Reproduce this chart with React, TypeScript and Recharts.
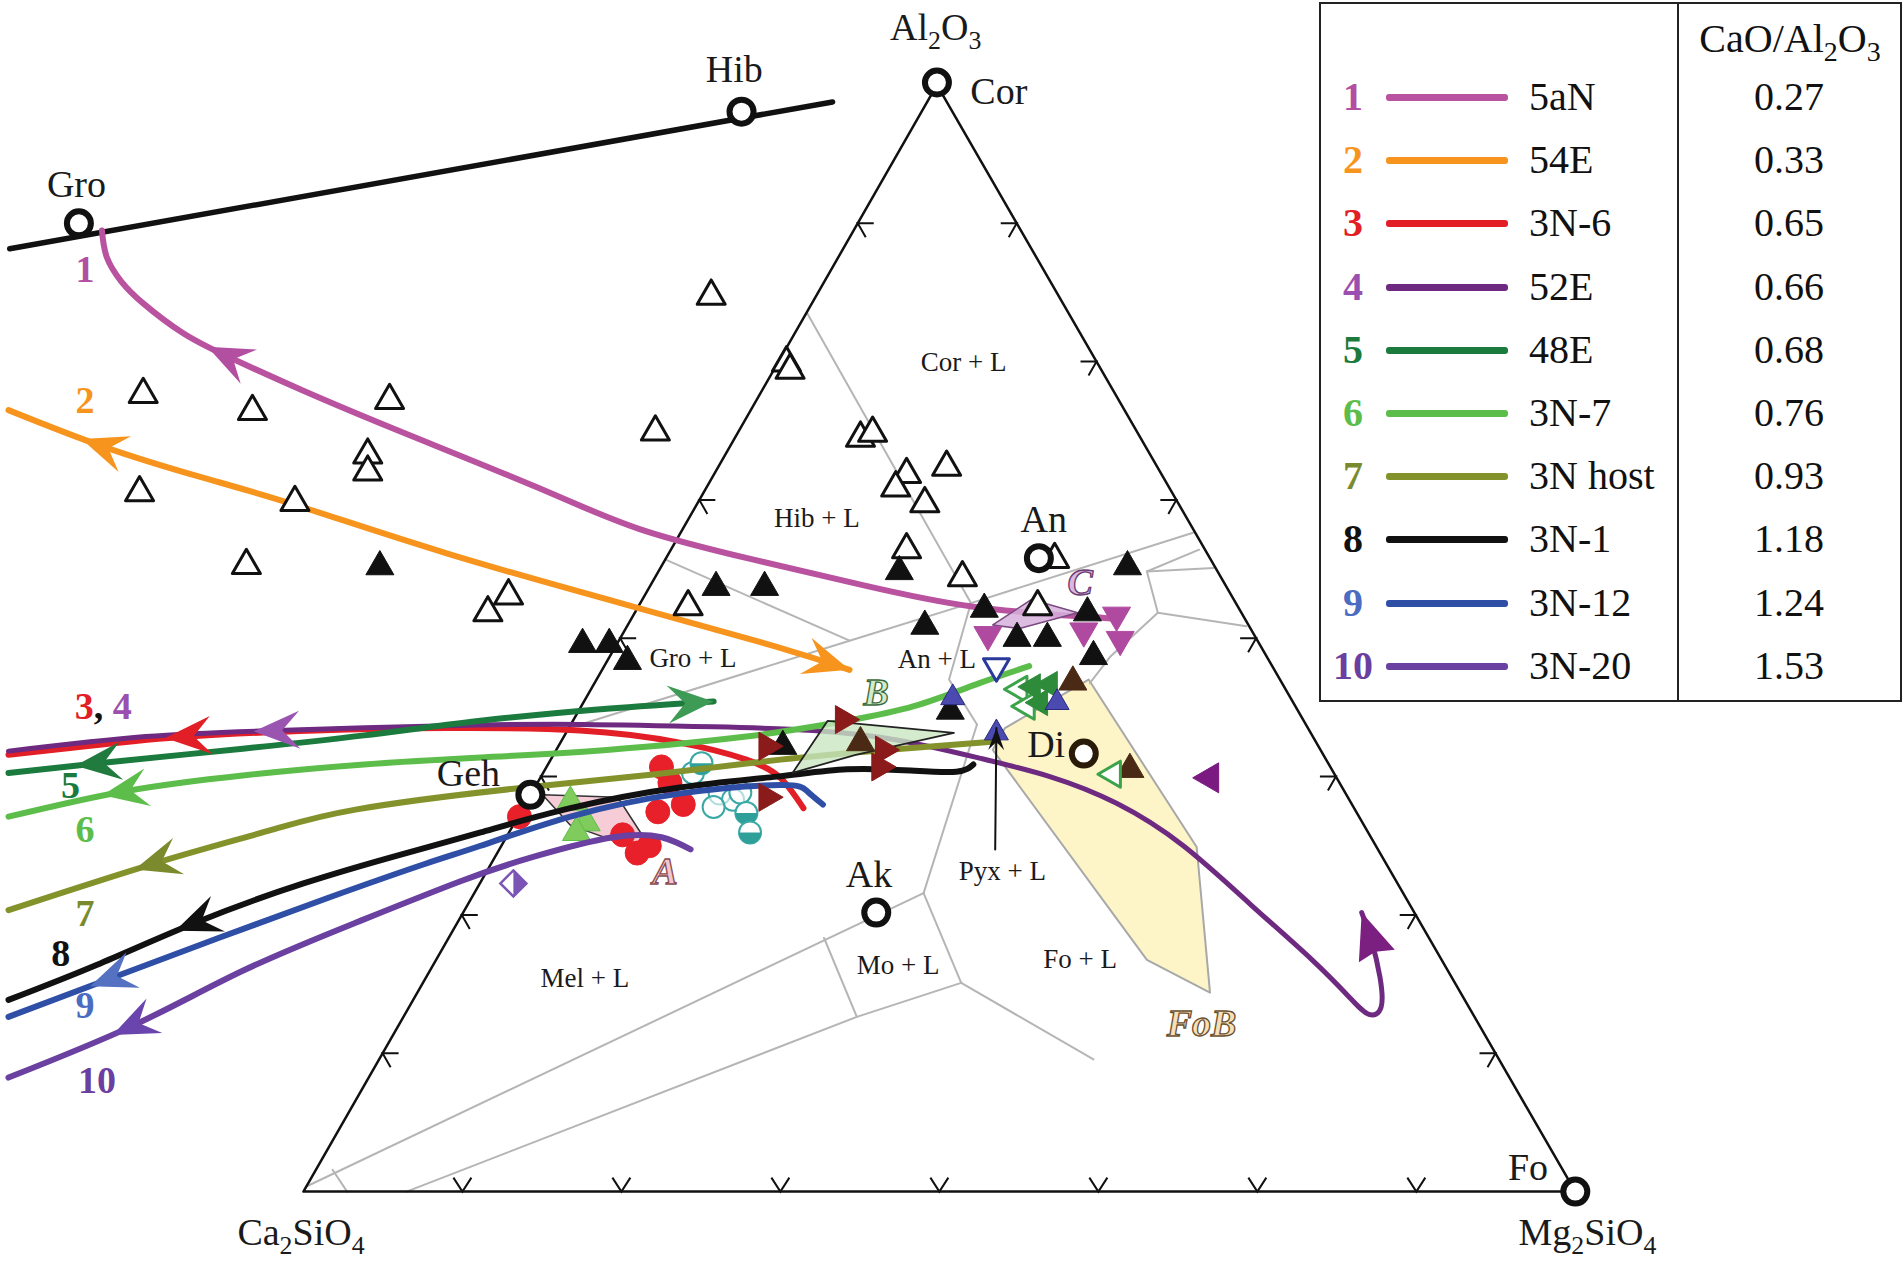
import React from "react";
import { ComposedChart, XAxis, YAxis, Scatter, Curve } from "recharts";

type Pt = { x: number; y: number };
const p = (x: number, y: number): Pt => ({ x, y });

const CHART_W = 1903;
const CHART_H = 1262;
// figure units: 1568 x 1040, y grows downward
const X_DOMAIN: [number, number] = [0, 1568];
const Y_DOMAIN: [number, number] = [0, 1040];

// ---- ternary frame ----
const cornerCa2SiO4 = p(250, 982);
const cornerMg2SiO4 = p(1298, 982);
const cornerAl2O3 = p(772, 70);
const tickFractions = [0.125, 0.25, 0.375, 0.5, 0.625, 0.75, 0.875];

// Gro - Hib join
const tieGroHib = [p(8, 205), p(686, 84)];

// ---- liquidus field boundaries ----
const bHibCor = [p(665, 258), p(800, 497)];
const bHibGro = [p(548, 461), p(700, 528), p(800, 497)];
const bGroMel = [p(469, 600), p(700, 528)];
const bAnTop = [p(800, 497), p(983, 439)];
const bAnRightA = [p(945, 471), p(988, 453)];
const bAnRightB = [p(945, 471), p(1000, 468)];
const bAnRightC = [p(945, 471), p(954, 505), p(1027, 516)];
const bDiTop = [p(954, 505), p(915, 541), p(898, 563)];
const bAnLow = [p(800, 497), p(782, 560), p(805, 597)];
const bPyx = [p(805, 597), p(761, 736)];
const bMelAk = [p(252, 978), p(761, 736)];
const bC2S = [p(274, 964), p(286, 982)];
const bMoLow = [p(335, 982), p(706, 838), p(792, 810)];
const bMoLeft = [p(679, 773), p(706, 838)];
const bMoRight = [p(761, 736), p(792, 810)];
const bFo = [p(792, 810), p(901, 873)];
const boundaries = [bHibCor, bHibGro, bGroMel, bAnTop, bAnRightA, bAnRightB, bAnRightC, bDiTop, bAnLow, bPyx, bMelAk, bC2S, bMoLow, bMoLeft, bMoRight, bFo];

// composition fields
const fieldFoB = [p(828, 600), p(897, 560), p(986, 698), p(997, 818), p(945, 791), p(818, 618)];
const fieldA = [p(447, 655), p(509, 657), p(540, 705), p(470, 680)];
const fieldB = [p(653, 637), p(682, 594), p(786, 604), p(705, 622)];
const fieldC = [p(818, 515), p(850, 494), p(888, 505), p(840, 518)];

// ---- crystallization paths ----
const curve5aN = [p(84, 190), p(88, 212), p(100, 232), p(118, 250), p(150, 274), p(188, 294), p(250, 322), p(331, 356), p(441, 401), p(527, 436), p(620, 461), p(710, 482), p(802, 500), p(893, 508), p(920, 510)];
const curve54E = [p(7, 338), p(85, 368), p(165, 393), p(243, 416), p(368, 456), p(515, 498), p(640, 533), p(700, 552)];
const curve3N6 = [p(7, 622), p(80, 614), p(155, 607), p(260, 602), p(368, 600), p(478, 602), p(560, 612), p(615, 626), p(643, 641), p(662, 666)];
const curve52E = [p(7, 619), p(120, 607), p(228, 602), p(368, 598), p(480, 597), p(588, 599), p(670, 602), p(740, 610), p(808, 625), p(865, 640), p(920, 662), p(975, 697), p(1030, 745), p(1080, 790), p(1112, 822), p(1128, 836), p(1138, 830), p(1137, 805), p(1130, 775), p(1122, 752)];
const curve48E = [p(7, 637), p(81, 629), p(200, 617), p(300, 606), p(396, 594), p(500, 584), p(588, 578)];
const curve3N7 = [p(7, 673), p(103, 652), p(200, 639), p(300, 630), p(400, 624), p(500, 618), p(615, 607), p(698, 594), p(753, 582), p(807, 563), p(848, 549)];
const curve3Nhost = [p(7, 750), p(129, 711), p(220, 685), p(294, 667), p(423, 650), p(540, 638), p(643, 626), p(730, 618), p(820, 611)];
const curve3N1 = [p(7, 824), p(80, 795), p(162, 760), p(250, 728), p(331, 704), p(396, 686), p(470, 666), p(560, 649), p(640, 640), p(698, 634), p(750, 635), p(788, 636), p(802, 630)];
const curve3N12 = [p(7, 838), p(92, 806), p(180, 773), p(270, 740), p(350, 712), p(396, 697), p(470, 673), p(560, 654), p(643, 647), p(665, 652), p(678, 663)];
const curve3N20 = [p(7, 888), p(110, 845), p(200, 800), p(294, 760), p(380, 726), p(440, 706), p(505, 690), p(545, 690), p(569, 700)];

const seriesNames = ["5aN", "54E", "3N-6", "52E", "48E", "3N-7", "3N host", "3N-1", "3N-12", "3N-20"];
const seriesRatios = ["0.27", "0.33", "0.65", "0.66", "0.68", "0.76", "0.93", "1.18", "1.24", "1.53"];
const seriesCurves = [curve5aN, curve54E, curve3N6, curve52E, curve48E, curve3N7, curve3Nhost, curve3N1, curve3N12, curve3N20];

// arrowheads along the paths (series number, position, direction along the path)
const pathArrows = [
  { s: 1, x: 188, y: 294, dir: -1 },
  { s: 2, x: 85, y: 368, dir: -1 },
  { s: 2, x: 700, y: 552, dir: 1 },
  { s: 3, x: 155, y: 607, dir: -1 },
  { s: 4, x: 228, y: 602, dir: -1 },
  { s: 4, x: 1122, y: 752, dir: 1 },
  { s: 5, x: 81, y: 629, dir: -1 },
  { s: 5, x: 588, y: 578, dir: 1 },
  { s: 6, x: 103, y: 652, dir: -1 },
  { s: 7, x: 129, y: 711, dir: -1 },
  { s: 8, x: 162, y: 760, dir: -1 },
  { s: 9, x: 92, y: 806, dir: -1 },
  { s: 10, x: 110, y: 845, dir: -1 },
];

const pyxPointer = [p(820, 700), p(821, 600)];

// ---- analyses ----
const openTriangles = [p(586, 244), p(118, 325), p(208, 339), p(321, 330), p(540, 356), p(648, 299), p(651, 305), p(303, 375), p(303, 389), p(115, 406), p(243, 414), p(203, 466), p(419, 491), p(402, 505), p(567, 500), p(709, 361), p(719, 357), p(747, 391), p(780, 385), p(738, 402), p(762, 415), p(747, 453), p(793, 476), p(869, 461), p(855, 500)];
const filledTriangles = [p(313, 467), p(480, 531), p(502, 531), p(517, 545), p(590, 484), p(630, 484), p(741, 471), p(929, 467), p(762, 516), p(811, 502), p(838, 526), p(863, 526), p(896, 505), p(901, 541), p(645, 615), p(783, 586)];
const magentaDown = [p(814, 523), p(893, 520), p(920, 507), p(923, 527)];
const redCircles = [p(545, 632), p(552, 645), p(563, 663), p(542, 669), p(513, 688), p(525, 703), p(535, 697), p(428, 673)];
const tealOpen = [p(593, 654), p(604, 659), p(571, 637), p(588, 665), p(610, 653)];
const tealHalf = [p(578, 629), p(615, 670), p(618, 686)];
const darkRedRight = [p(632, 615), p(632, 657), p(695, 593), p(728, 618), p(725, 632)];
const brownUp = [p(709, 612), p(884, 562), p(931, 634)];
const lightGreenUp = [p(470, 661), p(483, 678), p(475, 686)];
const greenLeftFilled = [p(851, 566), p(865, 564), p(857, 579)];
const greenLeftOpen = [p(840, 568), p(846, 582), p(917, 638)];
const navyDown = [p(821, 549)];
const navyUp = [p(821, 604), p(871, 579), p(785, 575)];
const purpleLeft = [p(997, 641)];
const violetDiamond = [p(423, 728)];

// end-member phases
const phasePoints = [p(65, 184), p(611, 92), p(772, 68), p(856, 460), p(437, 655), p(722, 752), p(1298, 982)];
const diopsidePoint = [p(893, 621)];

// ---- texts ----
const phaseLabels = [
  { x: 63, y: 152, text: "Gro" }, { x: 605, y: 57, text: "Hib" }, { x: 771, y: 22, text: "Al2O3" },
  { x: 823, y: 75, text: "Cor" }, { x: 860, y: 428, text: "An" }, { x: 386, y: 637, text: "Geh" },
  { x: 862, y: 613, text: "Di" }, { x: 716, y: 720, text: "Ak" }, { x: 1259, y: 962, text: "Fo" },
  { x: 248, y: 1015, text: "Ca2SiO4" }, { x: 1308, y: 1015, text: "Mg2SiO4" },
];
const fieldLabels = [
  { x: 794, y: 298, text: "Cor + L" }, { x: 673, y: 427, text: "Hib + L" }, { x: 571, y: 542, text: "Gro + L" },
  { x: 772, y: 543, text: "An + L" }, { x: 826, y: 718, text: "Pyx + L" }, { x: 482, y: 806, text: "Mel + L" },
  { x: 740, y: 795, text: "Mo + L" }, { x: 890, y: 790, text: "Fo + L" },
];
const regionLetters = [
  { x: 548, y: 718, text: "A" }, { x: 722, y: 570, text: "B" }, { x: 890, y: 480, text: "C" }, { x: 990, y: 843, text: "FoB" },
];
const pathNumbers = [
  { x: 70, y: 222, ids: [1] }, { x: 70, y: 330, ids: [2] }, { x: 85, y: 582, ids: [3, 4] },
  { x: 58, y: 647, ids: [5] }, { x: 70, y: 683, ids: [6] }, { x: 70, y: 752, ids: [7] },
  { x: 50, y: 785, ids: [8] }, { x: 70, y: 828, ids: [9] }, { x: 80, y: 890, ids: [10] },
];

// ---- styles ----
const SERIF = '"Liberation Serif", "Times New Roman", serif';
const SERIES_COLORS = ["#b9529f", "#f7941d", "#e21f26", "#6e2a80", "#1b7a3d", "#5dbd4a", "#84922c", "#111111", "#2f4fa6", "#6a40a0"];
const NUMBER_COLORS = ["#b24fa1", "#f7941d", "#e21f26", "#9b4fae", "#1b7a3d", "#5dbd4a", "#7b8a2c", "#111111", "#4c6cc2", "#6a3fa0"];
const ARROW_COLORS = ["#b24fa1", "#f7941d", "#e21f26", "#9a55b0", "#217a3e", "#5dbd4a", "#7b8a2c", "#111111", "#5471c2", "#6a45ad"];
const END_ARROW_COLORS = ["#b24fa1", "#f7941d", "#e21f26", "#7b1f80", "#3d9b55", "#5dbd4a", "#7b8a2c", "#111111", "#5471c2", "#6a45ad"];
const LETTER_STYLES: Record<string, { fill: string; stroke: string }> = {
  A: { fill: "#f4c8cb", stroke: "#8a4a50" },
  B: { fill: "#d2ebc8", stroke: "#3c6a3c" },
  C: { fill: "#dcb8e0", stroke: "#6a3a70" },
  FoB: { fill: "#f7e0b8", stroke: "#6a5030" },
};

const noShape = () => <g />;

const pathLine = (stroke: string, width: number, type: any = "linear") => (lp: any) => (
  <Curve points={lp.points} type={type} stroke={stroke} strokeWidth={width} fill="none" strokeLinecap="round" strokeLinejoin="round" />
);
const polygonLine = (fill: string, stroke: string, width: number, opacity = 1) => (lp: any) => (
  <Curve points={lp.points} type="linearClosed" stroke={stroke} strokeWidth={width} fill={fill} fillOpacity={opacity} strokeLinejoin="round" />
);

const triPoints = (cx: number, cy: number, s: number, rot: number) => {
  const h = s * 1.73;
  const r = (rot * Math.PI) / 180;
  const c = Math.cos(r);
  const sn = Math.sin(r);
  return [[0, (-2 * h) / 3], [s, h / 3], [-s, h / 3]]
    .map(([x, y]) => `${cx + x * c - y * sn},${cy + x * sn + y * c}`)
    .join(" ");
};

const ROT: Record<string, number> = { up: 0, right: 90, down: 180, left: 270 };

const marker = (kind: string, fill: string, stroke: string, sw: number, size: number) => (props: any) => {
  const { cx, cy } = props;
  if (kind === "circle") return <circle cx={cx} cy={cy} r={size} fill={fill} stroke={stroke} strokeWidth={sw} />;
  if (kind === "half") {
    return (
      <g>
        <circle cx={cx} cy={cy} r={size} fill="#fff" stroke={stroke} strokeWidth={sw} />
        <path d={`M${cx - size},${cy} A${size},${size} 0 0 0 ${cx + size},${cy} Z`} fill={fill} />
      </g>
    );
  }
  if (kind === "diamond") {
    const d = size;
    return (
      <g>
        <polygon points={`${cx},${cy - d} ${cx + d},${cy} ${cx},${cy + d} ${cx - d},${cy}`} fill="#fff" stroke={stroke} strokeWidth={sw} />
        <polygon points={`${cx},${cy - d} ${cx + d},${cy} ${cx},${cy + d}`} fill={fill} />
      </g>
    );
  }
  return <polygon points={triPoints(cx, cy, size, ROT[kind])} fill={fill} stroke={stroke} strokeWidth={sw} strokeLinejoin="round" />;
};

const tickShape = (edge: string) => (props: any) => {
  const { cx, cy } = props;
  let d = "";
  if (edge === "bottom") d = `M${cx - 9},${cy - 14} L${cx},${cy} L${cx + 9},${cy - 14}`;
  if (edge === "left") d = `M${cx + 16},${cy} L${cx},${cy} L${cx + 8},${cy + 14}`;
  if (edge === "right") d = `M${cx - 16},${cy} L${cx},${cy} L${cx - 8},${cy + 14}`;
  return <path d={d} stroke="#111" strokeWidth={2} fill="none" />;
};

const edgeTicks = (a: Pt, b: Pt) => tickFractions.map((f) => ({ x: a.x + f * (b.x - a.x), y: a.y + f * (b.y - a.y) }));

// direction of a path at a point, from the neighbouring path vertices
const pathDirection = (curve: Pt[], x: number, y: number, dir: number) => {
  let j = 0;
  let best = Infinity;
  curve.forEach((q, i) => {
    const d = (q.x - x) ** 2 + (q.y - y) ** 2;
    if (d < best) { best = d; j = i; }
  });
  const a = curve[Math.max(0, j - 1)];
  const b = curve[Math.min(curve.length - 1, j + 1)];
  return { angle: Math.atan2((b.y - a.y) * dir, (b.x - a.x) * dir), atEnd: j === 0 || j === curve.length - 1 };
};

const arrowHead = (cx: number, cy: number, angle: number, len: number, half: number, color: string, notch = 0.62) => (
  <path
    d={`M0,0 L${-len},${-half} L${-notch * len},0 L${-len},${half} Z`}
    transform={`translate(${cx},${cy}) rotate(${(angle * 180) / Math.PI})`}
    fill={color}
  />
);

const pathArrowShape = (props: any) => {
  const { cx, cy, payload } = props;
  const { angle, atEnd } = pathDirection(seriesCurves[payload.s - 1], payload.x, payload.y, payload.dir);
  const len = 46;
  const shift = atEnd ? 0 : len * 0.5;
  const color = atEnd ? END_ARROW_COLORS[payload.s - 1] : ARROW_COLORS[payload.s - 1];
  return arrowHead(cx + shift * Math.cos(angle), cy + shift * Math.sin(angle), angle, len, 19, color, atEnd && payload.s === 4 ? 0.9 : 0.62);
};

const pointerArrowShape = (props: any) => {
  const { cx, cy, index } = props;
  if (index !== pyxPointer.length - 1) return <g />;
  const a = pyxPointer[index - 1];
  const b = pyxPointer[index];
  return arrowHead(cx, cy, Math.atan2(b.y - a.y, b.x - a.x), 22, 8, "#111");
};

const chemSpans = (text: string, fs: number) => {
  const parts = text.match(/\d+|\D+/g) || [];
  let lowered = false;
  return parts.map((part, i) => {
    if (/\d/.test(part)) {
      lowered = true;
      return <tspan key={i} fontSize={fs * 0.68} dy={fs * 0.26}>{part}</tspan>;
    }
    const dy = lowered ? -fs * 0.26 : 0;
    lowered = false;
    return <tspan key={i} dy={dy}>{part}</tspan>;
  });
};

const textShape = (fs: number, weight = "normal") => (props: any) => {
  const { cx, cy, payload } = props;
  return (
    <text x={cx} y={cy + fs * 0.34} textAnchor="middle" fontSize={fs} fontFamily={SERIF} fontWeight={weight} fill="#1a1a1a">
      {chemSpans(payload.text, fs)}
    </text>
  );
};

const letterShape = (props: any) => {
  const { cx, cy, payload } = props;
  const st = LETTER_STYLES[payload.text];
  return (
    <text x={cx} y={cy + 13} textAnchor="middle" fontSize={38} fontFamily={SERIF} fontStyle="italic" fontWeight="bold" fill={st.fill} stroke={st.stroke} strokeWidth={1.3}>
      {payload.text}
    </text>
  );
};

const numberShape = (props: any) => {
  const { cx, cy, payload } = props;
  return (
    <text x={cx} y={cy + 13} textAnchor="middle" fontSize={38} fontFamily={SERIF} fontWeight="bold">
      {payload.ids.map((id: number, k: number) => (
        <React.Fragment key={id}>
          {k > 0 && <tspan fill="#111">, </tspan>}
          <tspan fill={NUMBER_COLORS[id - 1]}>{id}</tspan>
        </React.Fragment>
      ))}
    </text>
  );
};

function LegendTable() {
  const rowTop = (i: number) => 70 + i * 63.2;
  return (
    <div
      style={{
        position: "absolute", left: 1319, top: 2, width: 583, height: 700, boxSizing: "border-box",
        border: "2.5px solid #222", background: "#fff", fontFamily: SERIF, color: "#111", fontSize: 40,
      }}
    >
      <div style={{ position: "absolute", left: 356, top: 0, bottom: 0, borderLeft: "2.5px solid #222" }} />
      <div style={{ position: "absolute", left: 359, right: 0, top: 12, height: 46, lineHeight: "46px", textAlign: "center", whiteSpace: "nowrap" }}>
        CaO/Al<span style={{ fontSize: 28, position: "relative", top: 9 }}>2</span>O<span style={{ fontSize: 28, position: "relative", top: 9 }}>3</span>
      </div>
      {seriesNames.map((name, i) => (
        <div key={name} style={{ position: "absolute", left: 0, right: 0, top: rowTop(i), height: 46, lineHeight: "46px", whiteSpace: "nowrap" }}>
          <span style={{ position: "absolute", left: 0, width: 64, textAlign: "center", fontWeight: "bold", color: NUMBER_COLORS[i] }}>{i + 1}</span>
          <span style={{ position: "absolute", left: 65, top: 20, width: 122, height: 7, borderRadius: 3, background: SERIES_COLORS[i] }} />
          <span style={{ position: "absolute", left: 208 }}>{name}</span>
          <span style={{ position: "absolute", left: 357, width: 222, textAlign: "center" }}>{seriesRatios[i]}</span>
        </div>
      ))}
    </div>
  );
}

export default function App() {
  const frame = [cornerCa2SiO4, cornerMg2SiO4, cornerAl2O3];
  return (
    <div style={{ position: "absolute", left: 0, top: 0, width: CHART_W, height: CHART_H, background: "#fff" }}>
      <ComposedChart width={CHART_W} height={CHART_H} margin={{ top: 0, right: 0, bottom: 0, left: 0 }}>
        <XAxis type="number" dataKey="x" domain={X_DOMAIN} hide allowDataOverflow />
        <YAxis type="number" dataKey="y" domain={Y_DOMAIN} reversed hide allowDataOverflow />

        {/* fields and boundaries */}
        <Scatter data={fieldFoB} shape={noShape} line={polygonLine("#fdf5c8", "#a8a8a8", 2)} isAnimationActive={false} />
        {boundaries.map((b, i) => (
          <Scatter key={`b${i}`} data={b} shape={noShape} line={pathLine("#b5b5b5", 2)} isAnimationActive={false} />
        ))}
        <Scatter data={fieldA} shape={noShape} line={polygonLine("#f6cdd6", "#333", 1.5)} isAnimationActive={false} />

        {/* frame */}
        <Scatter data={frame} shape={noShape} line={polygonLine("none", "#111", 2.5)} isAnimationActive={false} />
        <Scatter data={edgeTicks(cornerCa2SiO4, cornerMg2SiO4)} shape={tickShape("bottom")} isAnimationActive={false} />
        <Scatter data={edgeTicks(cornerCa2SiO4, cornerAl2O3)} shape={tickShape("left")} isAnimationActive={false} />
        <Scatter data={edgeTicks(cornerMg2SiO4, cornerAl2O3)} shape={tickShape("right")} isAnimationActive={false} />
        <Scatter data={tieGroHib} shape={noShape} line={pathLine("#111", 5.5)} isAnimationActive={false} />

        {/* analyses under the paths */}
        <Scatter data={redCircles} shape={marker("circle", "#e8202a", "#e8202a", 1, 12)} isAnimationActive={false} />
        <Scatter data={tealOpen} shape={marker("circle", "rgba(255,255,255,0.6)", "#3aa8a5", 2, 11)} isAnimationActive={false} />
        <Scatter data={tealHalf} shape={marker("half", "#2f9f9a", "#3aa8a5", 2, 11)} isAnimationActive={false} />
        <Scatter data={lightGreenUp} shape={marker("up", "#7fcc5c", "#5dbd4a", 1, 14)} isAnimationActive={false} />

        {/* crystallization paths */}
        {seriesCurves.map((c, i) => (
          <Scatter key={`c${i}`} data={c} shape={noShape} line={pathLine(SERIES_COLORS[i], i === 3 ? 5 : 6, "natural")} isAnimationActive={false} />
        ))}
        <Scatter data={pathArrows} shape={pathArrowShape} isAnimationActive={false} />

        <Scatter data={fieldB} shape={noShape} line={polygonLine("#c9e6c0", "#222", 1.8, 0.8)} isAnimationActive={false} />
        <Scatter data={fieldC} shape={noShape} line={polygonLine("#d7b0dc", "#7a4a80", 1.5, 0.85)} isAnimationActive={false} />

        {/* analyses */}
        <Scatter data={openTriangles} shape={marker("up", "#fff", "#111", 3, 14)} isAnimationActive={false} />
        <Scatter data={filledTriangles} shape={marker("up", "#111", "#111", 1, 14)} isAnimationActive={false} />
        <Scatter data={magentaDown} shape={marker("down", "#b04aa0", "#b04aa0", 1, 14)} isAnimationActive={false} />
        <Scatter data={darkRedRight} shape={marker("right", "#8b1a1a", "#8b1a1a", 1, 14)} isAnimationActive={false} />
        <Scatter data={brownUp} shape={marker("up", "#4a2a14", "#4a2a14", 1, 14)} isAnimationActive={false} />
        <Scatter data={greenLeftOpen} shape={marker("left", "#fff", "#3da34a", 3, 13)} isAnimationActive={false} />
        <Scatter data={greenLeftFilled} shape={marker("left", "#2e8b3a", "#2e8b3a", 1, 13)} isAnimationActive={false} />
        <Scatter data={navyDown} shape={marker("down", "#fff", "#2a3a9a", 3, 13)} isAnimationActive={false} />
        <Scatter data={navyUp} shape={marker("up", "#4a4ab0", "#2a2a80", 1, 12)} isAnimationActive={false} />
        <Scatter data={purpleLeft} shape={marker("left", "#7b1a80", "#7b1a80", 1, 15)} isAnimationActive={false} />
        <Scatter data={violetDiamond} shape={marker("diamond", "#7b55b5", "#7b55b5", 2.5, 13)} isAnimationActive={false} />

        {/* Pyx + L pointer */}
        <Scatter data={pyxPointer} shape={pointerArrowShape} line={pathLine("#111", 2)} isAnimationActive={false} />

        {/* end-member phases */}
        <Scatter data={phasePoints} shape={marker("circle", "#fff", "#111", 6, 12)} isAnimationActive={false} />
        <Scatter data={diopsidePoint} shape={marker("circle", "#fff", "#2a1a08", 6, 12)} isAnimationActive={false} />

        {/* texts */}
        <Scatter data={phaseLabels} shape={textShape(38)} isAnimationActive={false} />
        <Scatter data={fieldLabels} shape={textShape(27)} isAnimationActive={false} />
        <Scatter data={regionLetters} shape={letterShape} isAnimationActive={false} />
        <Scatter data={pathNumbers} shape={numberShape} isAnimationActive={false} />
      </ComposedChart>
      <LegendTable />
    </div>
  );
}
